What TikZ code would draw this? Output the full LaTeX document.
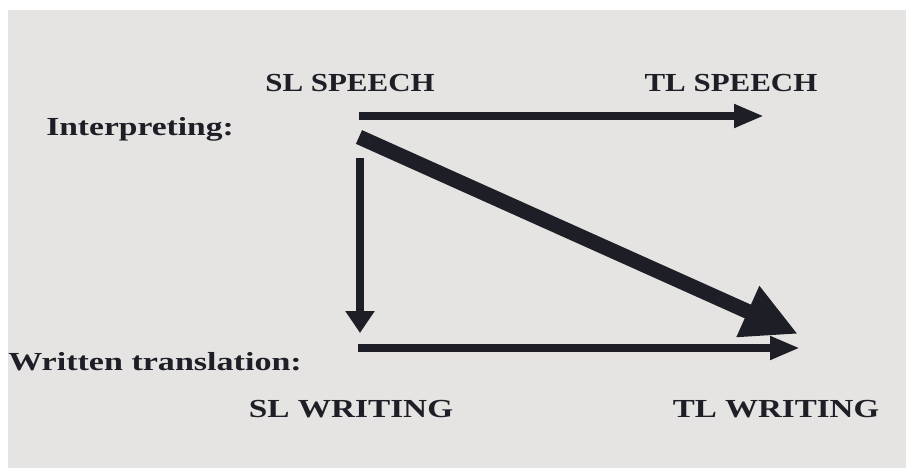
\documentclass[tikz,border=0pt]{standalone}
\usepackage{fontspec}
\setmainfont{Liberation Serif}
\usetikzlibrary{arrows.meta}

\definecolor{paper}{RGB}{229,228,226}
\definecolor{ink}{RGB}{30,31,38}

\begin{document}
\begin{tikzpicture}[x=1pt,y=-1pt,
  lab/.style={font=\fontsize{26}{30}\selectfont\bfseries, text=ink, inner sep=0pt, anchor=base},
  flow/.style={draw=ink, line width=7.5pt, -{Triangle[length=30pt,width=22pt]}},
  bigflow/.style={draw=ink, line width=15pt, -{Triangle[length=55pt,width=52pt]}}]

\useasboundingbox (0,0) rectangle (906,468);
\fill[white] (0,0) rectangle (906,468);
\fill[paper] (8,10) rectangle (906,468);

\node[lab, xscale=1.19] (slspeech) at (350,92) {SL SPEECH};
\node[lab, xscale=1.19] (tlspeech) at (731,92) {TL SPEECH};
\node[lab, xscale=1.29, anchor=base west] (interp) at (46,136) {Interpreting:};
\node[lab, xscale=1.31, anchor=base west] (written) at (8,370) {Written translation:};
\node[lab, xscale=1.28] (slwriting) at (351,417) {SL WRITING};
\node[lab, xscale=1.27] (tlwriting) at (776,417) {TL WRITING};

\coordinate (t1) at (359,116);
\coordinate (t2) at (764,116);
\coordinate (v1) at (360,158);
\coordinate (v2) at (360,333);
\coordinate (d1) at (359,137);
\coordinate (d2) at (798,334);
\coordinate (b1) at (358,348);
\coordinate (b2) at (800,348);

\draw[flow] (t1) -- (t2); % interpreting
\draw[flow, -{Triangle[length=22pt,width=28pt]}] (v1) -- (v2);
\draw[bigflow] (d1) -- (d2);
\draw[flow] (b1) -- (b2); % written translation

\end{tikzpicture}
\end{document}
